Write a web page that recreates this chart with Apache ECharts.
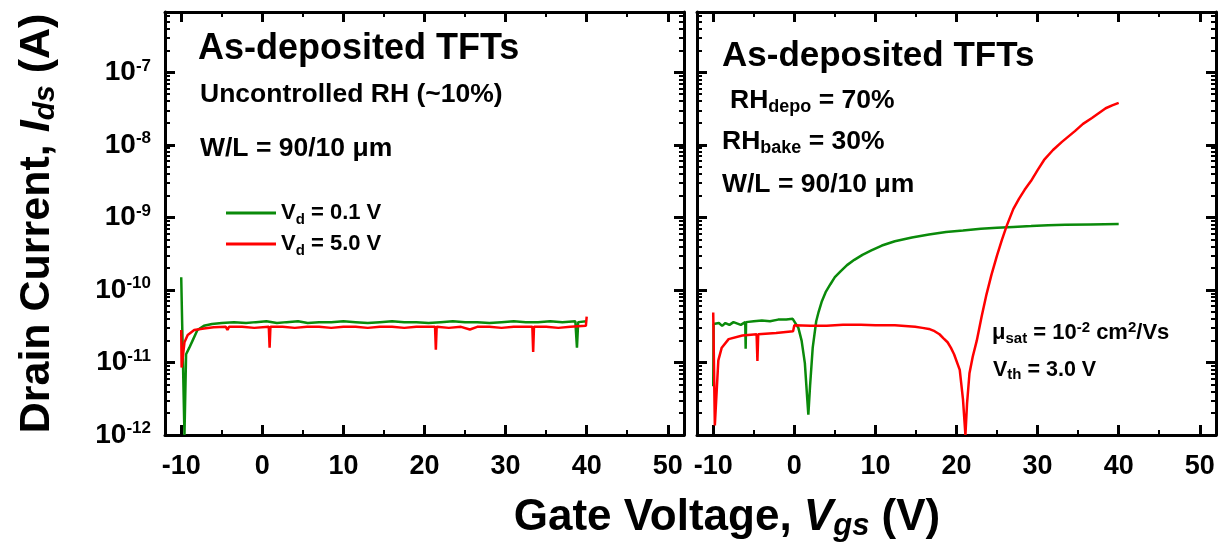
<!DOCTYPE html>
<html>
<head>
<meta charset="utf-8">
<script src="https://cdn.jsdelivr.net/npm/echarts@6/dist/echarts.min.js"></script>
<style>
  html, body { margin: 0; padding: 0; background: #fff; }
  #chart { width: 1224px; height: 548px; }
</style>
</head>
<body>
<div id="chart"></div>
<script>
// [Vgs (V), Ids (A)]
var leftVd01 = [
  [-10.0, 1.5e-10], [-9.6, 1.0e-12], [-9.4, 1.3e-11], [-9.0, 1.6e-11], [-8.6, 2.0e-11],
  [-8.0, 2.8e-11], [-7.2, 3.2e-11], [-6.2, 3.4e-11], [-5.0, 3.5e-11], [-3.5, 3.6e-11],
  [-2.0, 3.5e-11], [-0.8, 3.6e-11], [0.5, 3.7e-11], [1.8, 3.5e-11], [3.0, 3.6e-11],
  [4.4, 3.7e-11], [5.6, 3.5e-11], [7.0, 3.6e-11], [8.5, 3.6e-11], [10.0, 3.7e-11],
  [11.5, 3.6e-11], [13.0, 3.5e-11], [14.5, 3.6e-11], [16.0, 3.7e-11], [17.5, 3.6e-11],
  [19.0, 3.6e-11], [20.5, 3.5e-11], [22.0, 3.6e-11], [23.5, 3.7e-11], [25.0, 3.6e-11],
  [26.5, 3.6e-11], [28.0, 3.5e-11], [29.5, 3.6e-11], [31.0, 3.7e-11], [32.5, 3.6e-11],
  [34.0, 3.6e-11], [35.5, 3.7e-11], [37.0, 3.6e-11], [38.6, 3.7e-11], [38.8, 1.6e-11],
  [38.95, 3.6e-11], [40.0, 3.7e-11]
];
var leftVd50 = [
  [-10.0, 2.8e-11], [-9.95, 8.5e-12], [-9.6, 1.9e-11], [-9.2, 2.4e-11], [-8.4, 2.8e-11],
  [-7.2, 2.95e-11], [-6.0, 3.05e-11], [-4.5, 3.1e-11], [-4.3, 2.8e-11], [-4.1, 3.1e-11],
  [-2.5, 3.1e-11], [-1.0, 3.0e-11], [0.8, 3.1e-11], [0.9, 1.6e-11], [1.0, 3.1e-11],
  [2.5, 3.1e-11], [4.0, 3.0e-11], [5.5, 3.1e-11], [7.0, 3.1e-11], [8.5, 3.0e-11],
  [10.0, 3.1e-11], [11.5, 3.1e-11], [13.0, 3.0e-11], [14.5, 3.1e-11], [16.0, 3.1e-11],
  [17.5, 3.0e-11], [19.0, 3.1e-11], [21.3, 3.1e-11], [21.4, 1.5e-11], [21.5, 3.1e-11],
  [23.0, 3.0e-11], [24.5, 3.1e-11], [25.6, 2.85e-11], [26.5, 3.1e-11], [28.0, 3.1e-11],
  [29.5, 3.0e-11], [31.0, 3.1e-11], [33.3, 3.1e-11], [33.4, 1.4e-11], [33.5, 3.1e-11],
  [35.0, 3.1e-11], [36.5, 3.0e-11], [38.0, 3.1e-11], [39.9, 3.2e-11], [40.0, 4.3e-11]
];
var rightVd01 = [
  [-10.0, 4.7e-12], [-9.95, 3.4e-11], [-9.3, 3.5e-11], [-8.9, 3.2e-11], [-8.5, 3.5e-11],
  [-8.0, 3.3e-11], [-7.5, 3.6e-11], [-6.6, 3.3e-11], [-6.05, 3.6e-11], [-6.0, 1.55e-11],
  [-5.95, 3.6e-11], [-5.0, 3.7e-11], [-4.0, 3.8e-11], [-3.0, 3.7e-11], [-2.0, 3.9e-11],
  [-1.0, 3.9e-11], [-0.2, 4.0e-11], [0.0, 3.9e-11], [0.5, 3.0e-11], [0.9, 2.0e-11],
  [1.3, 9.8e-12], [1.6, 3.1e-12], [1.73, 1.9e-12], [1.94, 4.7e-12], [2.27, 1.6e-11],
  [2.7, 3.7e-11], [3.0, 5.0e-11], [3.4, 7.0e-11], [3.9, 9.5e-11], [4.45, 1.2e-10],
  [5.0, 1.5e-10], [5.7, 1.8e-10], [6.5, 2.2e-10], [7.4, 2.6e-10], [8.4, 3.05e-10],
  [9.5, 3.5e-10], [10.8, 4.1e-10], [12.4, 4.7e-10], [14.5, 5.3e-10], [16.6, 5.8e-10],
  [18.7, 6.3e-10], [20.8, 6.6e-10], [23.0, 7.0e-10], [25.0, 7.2e-10], [27.0, 7.4e-10],
  [29.2, 7.6e-10], [31.3, 7.8e-10], [33.4, 7.9e-10], [36.5, 8.0e-10], [40.0, 8.1e-10]
];
var rightVd50 = [
  [-10.0, 4.9e-11], [-9.8, 1.35e-12], [-9.37, 1.07e-11], [-8.95, 1.6e-11], [-8.1, 2.1e-11],
  [-6.4, 2.35e-11], [-4.65, 2.45e-11], [-4.55, 1.05e-11], [-4.45, 2.45e-11], [-2.25, 2.55e-11],
  [-0.15, 2.7e-11], [0.0, 3.25e-11], [2.0, 3.2e-11], [4.0, 3.2e-11], [6.0, 3.3e-11],
  [8.2, 3.3e-11], [10.0, 3.25e-11], [12.4, 3.25e-11], [14.9, 3.1e-11], [15.8, 3.0e-11],
  [16.6, 2.9e-11], [17.3, 2.7e-11], [17.9, 2.45e-11], [18.4, 2.15e-11], [18.9, 1.9e-11],
  [19.3, 1.6e-11], [19.7, 1.3e-11], [20.4, 7.9e-12], [20.8, 3.1e-12], [21.1, 1.0e-12],
  [21.3, 2.7e-12], [21.6, 7.1e-12], [22.0, 1.2e-11], [22.5, 2.0e-11], [23.1, 4.3e-11],
  [23.7, 8.7e-11], [24.3, 1.6e-10], [25.0, 3.0e-10], [25.6, 4.9e-10], [26.2, 7.7e-10],
  [27.0, 1.3e-9], [27.7, 1.8e-9], [28.4, 2.4e-9], [29.2, 3.2e-9], [30.0, 4.5e-9],
  [30.8, 6.2e-9], [31.9, 8.5e-9], [33.0, 1.1e-8], [34.6, 1.55e-8], [35.6, 1.95e-8],
  [36.7, 2.35e-8], [38.4, 3.2e-8], [39.2, 3.5e-8], [40.0, 3.8e-8]
];

var xTicks = [-10, 0, 10, 20, 30, 40, 50];
var xMinorTicks = [-5, 5, 15, 25, 35, 45];
var yDecades = [1e-12, 1e-11, 1e-10, 1e-9, 1e-8, 1e-7];
var yMinorMult = [2, 3, 4, 5, 6, 7, 8, 9];

var xMin = -12, xMax = 52;
var yMin = 1e-12, yMax = 6.8e-7;

var FONT = '"Liberation Sans", Arial, sans-serif';
var NARROW = '"Liberation Sans Narrow", "Liberation Sans", Arial, sans-serif';
function f(size, italic, fam) {
  return (italic ? 'italic ' : '') + 'bold ' + size + 'px ' + (fam || FONT);
}
// rich-text style for echarts components
function rs(size, italic, extra) {
  var s = { fontSize: size, fontWeight: 'bold', fontFamily: FONT, color: '#000',
    fontStyle: italic ? 'italic' : 'normal' };
  for (var k in extra) s[k] = extra[k];
  return s;
}

var yMinorTicks = [];
yDecades.forEach(function (d) {
  yMinorMult.forEach(function (m) {
    var v = d * m;
    if (v < yMax) yMinorTicks.push(v);
  });
});

var grids = [
  { left: 165, top: 12, width: 519, bottom: 113 },
  { left: 697, top: 12, width: 519, bottom: 113 }
];

var xAxes = [];
var yAxes = [];
var mainX = [], mainY = [];

grids.forEach(function (g, gi) {
  ['bottom', 'top'].forEach(function (pos) {
    var showLabels = pos === 'bottom';
    if (showLabels) mainX.push(xAxes.length);
    xAxes.push({
      type: 'value', gridIndex: gi, position: pos, min: xMin, max: xMax,
      axisLine: { show: true, onZero: false, lineStyle: { color: '#000', width: 3 } },
      axisTick: { show: true, inside: true, length: 10, customValues: xTicks,
        lineStyle: { color: '#000', width: 3 } },
      axisLabel: showLabels ? {
        show: true, customValues: xTicks, margin: 18, color: '#000',
        fontSize: 27, fontWeight: 'bold', fontFamily: NARROW
      } : { show: false },
      splitLine: { show: false }
    });
    xAxes.push({
      type: 'value', gridIndex: gi, position: pos, min: xMin, max: xMax,
      axisLine: { show: false, onZero: false },
      axisTick: { show: true, inside: true, length: 5, customValues: xMinorTicks,
        lineStyle: { color: '#000', width: 2 } },
      axisLabel: { show: false },
      splitLine: { show: false }
    });
  });
  ['left', 'right'].forEach(function (pos) {
    var showLabels = pos === 'left' && gi === 0;
    if (pos === 'left') mainY.push(yAxes.length);
    var ax = {
      type: 'log', logBase: 10, gridIndex: gi, position: pos, min: yMin, max: yMax,
      axisLine: { show: true, onZero: false, lineStyle: { color: '#000', width: 3 } },
      axisTick: { show: true, inside: true, length: 10, customValues: yDecades,
        lineStyle: { color: '#000', width: 3 } },
      axisLabel: showLabels ? {
        show: true, customValues: yDecades, margin: 14, color: '#000',
        formatter: function (v) {
          return '{b|10}{sup|' + Math.round(Math.log10(v)) + '}';
        },
        rich: {
          b: rs(28, false, { lineHeight: 30 }),
          sup: rs(17, false, { lineHeight: 17, verticalAlign: 'top' })
        }
      } : { show: false },
      splitLine: { show: false }
    };
    if (showLabels) {
      ax.name = '{b|Drain Current, }{i|I}{sub|ds}{b| (A)}';
      ax.nameLocation = 'middle';
      ax.nameRotate = 90;
      ax.nameGap = 104;
      ax.nameTextStyle = {
        rich: {
          b: rs(43, false, { lineHeight: 48 }),
          i: rs(43, true, { lineHeight: 48 }),
          sub: rs(30, true, { lineHeight: 30, verticalAlign: 'bottom', padding: [8, 0, 0, 0] })
        }
      };
    }
    yAxes.push(ax);
    yAxes.push({
      type: 'log', logBase: 10, gridIndex: gi, position: pos, min: yMin, max: yMax,
      axisLine: { show: false, onZero: false },
      axisTick: { show: true, inside: true, length: 5, customValues: yMinorTicks,
        lineStyle: { color: '#000', width: 2 } },
      axisLabel: { show: false },
      splitLine: { show: false }
    });
  });
});

function lineSeries(name, data, color, gi) {
  return {
    name: name, type: 'line', data: data, xAxisIndex: mainX[gi], yAxisIndex: mainY[gi],
    showSymbol: false, symbol: 'none', color: color,
    lineStyle: { color: color, width: 2.5 }, animation: false
  };
}

var GREEN = '#0a8a0a';
var RED = '#ff0000';

var richSmall = function (size) {
  return {
    b: { font: f(size), lineHeight: size + 4 },
    sub: { font: f(Math.round(size * 0.68)), lineHeight: Math.round(size * 0.68), verticalAlign: 'bottom' },
    sup: { font: f(Math.round(size * 0.68)), lineHeight: Math.round(size * 0.68), verticalAlign: 'top' }
  };
};

function txt(x, y, text, size, rich) {
  var st = { text: text, fill: '#000', font: f(size), verticalAlign: 'middle' };
  if (rich) st.rich = rich;
  return { type: 'text', x: x, y: y, style: st, z: 10 };
}

var option = {
  backgroundColor: '#fff',
  animation: false,
  grid: grids,
  xAxis: xAxes,
  yAxis: yAxes,
  legend: {
    left: 221, top: 197, orient: 'vertical', icon: 'rect',
    itemWidth: 50, itemHeight: 3, itemGap: 6,
    data: ['Vd01', 'Vd50'],
    formatter: function (n) {
      return n === 'Vd01' ? '{b|V}{sub|d}{b| = 0.1 V}' : '{b|V}{sub|d}{b| = 5.0 V}';
    },
    textStyle: {
      rich: {
        b: rs(22, false, { lineHeight: 28 }),
        sub: rs(15, false, { lineHeight: 15, verticalAlign: 'bottom' })
      }
    }
  },
  series: [
    lineSeries('Vd01', leftVd01, GREEN, 0),
    lineSeries('Vd50', leftVd50, RED, 0),
    lineSeries('Vd01', rightVd01, GREEN, 1),
    lineSeries('Vd50', rightVd50, RED, 1)
  ],
  graphic: [
    txt(198, 49, 'As-deposited TFTs', 36),
    txt(200, 95, 'Uncontrolled RH (~10%)', 26.5),
    txt(200, 149, 'W/L = 90/10 \u03bcm', 26.5),
    txt(722, 56, 'As-deposited TFTs', 35),
    txt(730, 101, '{b|RH}{sub|depo}{b| = 70%}', 26.5, richSmall(26.5)),
    txt(722, 142, '{b|RH}{sub|bake}{b| = 30%}', 26.5, richSmall(26.5)),
    txt(722, 185, 'W/L = 90/10 \u03bcm', 26.5),
    txt(992, 333, '{b|\u03bc}{sub|sat}{b| = 10}{sup|-2}{b| cm}{sup|2}{b|/Vs}', 22, richSmall(22)),
    txt(993, 370, '{b|V}{sub|th}{b| = 3.0 V}', 21.5, richSmall(21.5)),
    {
      type: 'text', x: 727, y: 518, z: 10,
      style: {
        text: '{b|Gate Voltage, }{i|V}{sub|gs}{b| (V)}',
        fill: '#000', align: 'center', verticalAlign: 'middle', font: f(44, false, NARROW),
        rich: {
          b: { font: f(44, false, NARROW), lineHeight: 48 },
          i: { font: f(44, true, NARROW), lineHeight: 48 },
          sub: { font: f(31, true, NARROW), lineHeight: 31, verticalAlign: 'bottom', padding: [8, 0, 0, 0] }
        }
      }
    }
  ]
};

var chart = echarts.init(document.getElementById('chart'));
chart.setOption(option);
</script>
</body>
</html>
